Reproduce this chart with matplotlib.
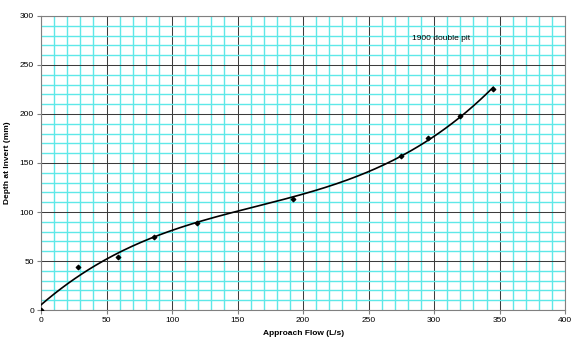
import numpy as np
import matplotlib
matplotlib.use("Agg")
import matplotlib.pyplot as plt

# measured points (approach flow L/s, depth at invert mm)
flow = [0, 28, 59, 86, 119, 192, 275, 295, 320, 345]
depth = [0, 44, 54, 75, 89, 113, 157, 176, 198, 225]
label = "1900 double pit"

plt.rcParams['font.family'] = ['Liberation Sans', 'DejaVu Sans']

fig = plt.figure(figsize=(5.75, 3.53), dpi=100)
ax = fig.add_axes([0.0713, 0.1218, 0.9117, 0.8329])

# Excel-style polynomial trendline
coef = np.polyfit(flow, depth, 3)
xs = np.linspace(0, max(flow), 200)
ax.plot(xs, np.polyval(coef, xs), color='black', lw=1.2, zorder=3)
ax.scatter(flow, depth, s=5, marker='D', color='black', zorder=4)

ax.set_xlim(0, 400)
ax.set_ylim(0, 300)
ax.set_xticks(np.arange(0, 401, 50))
ax.set_yticks(np.arange(0, 301, 50))
ax.set_xticks([v for v in range(0, 401, 10) if v % 50], minor=True)
ax.set_yticks([v for v in range(0, 301, 10) if v % 50], minor=True)
ax.grid(which='minor', color='#5ee8e8', lw=1.0, zorder=0, snap=True)
ax.grid(which='major', color='#3c3c3c', lw=0.75, zorder=1, snap=True)
ax.set_axisbelow(True)
ax.tick_params(which='minor', length=0)
ax.tick_params(which='major', length=3, labelsize=6, color='#808080', pad=2)
for s in ax.spines.values():
    s.set_color('#808080')
    s.set_linewidth(0.8)

ax.set_xlabel('Approach Flow (L/s)', fontsize=6, fontweight='bold', labelpad=4)
ax.set_ylabel('Depth at Invert (mm)', fontsize=6, fontweight='bold', labelpad=6)
ax.text(283, 277, label, fontsize=6, va='center')

fig.savefig('out.png', dpi=100)
